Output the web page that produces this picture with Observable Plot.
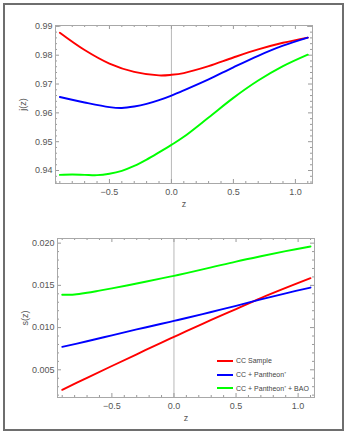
<!DOCTYPE html>
<html><head><meta charset="utf-8">
<script src="https://cdn.jsdelivr.net/npm/d3@7"></script>
<script src="https://cdn.jsdelivr.net/npm/@observablehq/plot@0.6"></script>
<style>
body{margin:0;background:#fff;}
#wrap{position:relative;width:347px;height:434px;overflow:hidden;font-family:"Liberation Sans",Arial,sans-serif;}
#border{position:absolute;left:3px;top:3px;width:341px;height:428px;box-sizing:border-box;border:2px solid #6e6e6e;}
.panel{position:absolute;left:0;}
#legend{position:absolute;left:217px;top:354px;font-size:7px;color:#444;}
#legend .row{display:flex;align-items:center;height:13.8px;}
#legend .sw{width:16px;height:2px;margin-right:3px;}
</style></head>
<body><div id="wrap"><div id="border"></div><div id="top" class="panel" style="top:0"></div><div id="bot" class="panel" style="top:215px"></div>
<div id="legend"></div></div>
<script>
// ---- data ----
const seriesNames = ["CC Sample", "CC + Pantheon\u207A", "CC + Pantheon\u207A + BAO"];
const seriesColors = ["#ff0000", "#0000ff", "#00ff00"];

const zRed  = [-0.9, -0.7, -0.5, -0.3, -0.1, 0, 0.1, 0.3, 0.5, 0.7, 0.9, 1.1];
const jRed  = [0.9878, 0.9818, 0.9771, 0.9742, 0.9730, 0.9732, 0.9738, 0.9762, 0.9792, 0.9820, 0.9843, 0.9861];
const zBlue = [-0.9, -0.7, -0.5, -0.4, -0.3, -0.2, -0.1, 0, 0.1, 0.3, 0.5, 0.7, 0.9, 1.1];
const jBlue = [0.9655, 0.9636, 0.9620, 0.9617, 0.9622, 0.9631, 0.9644, 0.9660, 0.9678, 0.9716, 0.9758, 0.9798, 0.9833, 0.9861];
const zGreen = [-0.9, -0.8, -0.7, -0.6, -0.5, -0.4, -0.3, -0.2, -0.1, 0, 0.1, 0.3, 0.5, 0.7, 0.9, 1.1];
const jGreen = [0.9385, 0.9386, 0.9385, 0.9384, 0.9389, 0.9399, 0.9416, 0.9438, 0.9463, 0.9489, 0.9517, 0.9584, 0.9652, 0.9712, 0.9762, 0.9802];

const zS = [-0.9, -0.7, -0.5, -0.3, -0.1, 0, 0.1, 0.3, 0.5, 0.7, 0.9, 1.1];
const sRed   = [0.00263, 0.00405, 0.00545, 0.00684, 0.00822, 0.00890, 0.00957, 0.01090, 0.01220, 0.01350, 0.01470, 0.01585];
const sBlue  = [0.00772, 0.00838, 0.00908, 0.00978, 0.01045, 0.01079, 0.01113, 0.01185, 0.01257, 0.01334, 0.01406, 0.01474];
const zSGreen = [-0.9, -0.8, -0.7, -0.6, -0.5, -0.3, -0.1, 0, 0.1, 0.3, 0.5, 0.7, 0.9, 1.1];
const sGreen = [0.01388, 0.01392, 0.01412, 0.01438, 0.01465, 0.01522, 0.01583, 0.01613, 0.01645, 0.01713, 0.01782, 0.01845, 0.01905, 0.01960];

const xMajorTicks = [-0.5, 0, 0.5, 1.0];
const jMajorTicks = [0.94, 0.95, 0.96, 0.97, 0.98, 0.99];
const sMajorTicks = [0.005, 0.010, 0.015, 0.020];

// ---- build ----
function rows(zs, vs, k) { return zs.map((z, i) => ({z, v: vs[i], k})); }
const topData = [...rows(zRed, jRed, 0), ...rows(zBlue, jBlue, 1), ...rows(zGreen, jGreen, 2)];
const botData = [...rows(zS, sRed, 0), ...rows(zS, sBlue, 1), ...rows(zSGreen, sGreen, 2)];

function minor(dom, step, majors) {
  const out = [];
  const a = Math.ceil(dom[0] / step - 1e-9), b = Math.floor(dom[1] / step + 1e-9);
  for (let i = a; i <= b; i++) {
    const v = +(i * step).toFixed(6);
    if (!majors.some(m => Math.abs(m - v) < step / 10)) out.push(v);
  }
  return out;
}

function panel({data, xDom, yDom, yMajor, yStep, yFmt, ylabel, mL, mR, mT, mB, h}) {
  const xMinor = minor(xDom, 0.1, xMajorTicks);
  const yMinor = minor(yDom, yStep, yMajor);
  const tickStroke = "#9a9a9a";
  const M = 4, m = 2;
  const xt = (vals, len) => [
    Plot.ruleX(vals, {x: d => d, y1: yDom[0], y2: yDom[0], insetTop: -len, stroke: tickStroke}),
    Plot.ruleX(vals, {x: d => d, y1: yDom[1], y2: yDom[1], insetBottom: -len, stroke: tickStroke})
  ];
  const yt = (vals, len) => [
    Plot.ruleY(vals, {y: d => d, x1: xDom[0], x2: xDom[0], insetRight: -len, stroke: tickStroke}),
    Plot.ruleY(vals, {y: d => d, x1: xDom[1], x2: xDom[1], insetLeft: -len, stroke: tickStroke})
  ];
  return Plot.plot({
    width: 347, height: h,
    marginLeft: mL, marginRight: mR, marginTop: mT, marginBottom: mB,
    style: {fontFamily: "'Liberation Sans', Arial, sans-serif", fontSize: "9px", background: "transparent"},
    x: {domain: xDom},
    y: {domain: yDom},
    marks: [
      Plot.ruleX([0], {stroke: "#b8b8b8", strokeWidth: 1}),
      ...xt(xMajorTicks, M), ...xt(xMinor, m),
      ...yt(yMajor, M), ...yt(yMinor, m),
      Plot.frame({stroke: "#a8a8a8"}),
      Plot.line(data, {x: "z", y: "v", z: "k", stroke: d => seriesColors[d.k], strokeWidth: 1.9, curve: "catmull-rom"}),
      Plot.axisX(xMajorTicks, {tickSize: 0, tickPadding: 5, tickFormat: d3.format(".1f"), color: "#555", fontSize: 9,
        label: "z", labelAnchor: "center", labelOffset: 23, labelArrow: "none"}),
      Plot.axisY(yMajor, {tickSize: 0, tickPadding: 3, tickFormat: yFmt, color: "#555", fontSize: 9,
        label: ylabel, labelAnchor: "center", labelOffset: 36, labelArrow: "none"})
    ]
  });
}

document.getElementById("top").append(panel({
  data: topData, xDom: [-0.935, 1.138], yDom: [0.9355, 0.9903], yMajor: jMajorTicks, yStep: 0.002,
  yFmt: d3.format(".2f"), ylabel: "j(z)", mL: 55, mR: 35, mT: 25, mB: 32, h: 215
}));
document.getElementById("bot").append(panel({
  data: botData, xDom: [-0.938, 1.132], yDom: [0.00172, 0.02055], yMajor: sMajorTicks, yStep: 0.001,
  yFmt: d3.format(".3f"), ylabel: "s(z)", mL: 57, mR: 33, mT: 23, mB: 37, h: 219
}));

const leg = document.getElementById("legend");
seriesNames.forEach((n, i) => {
  const r = document.createElement("div"); r.className = "row";
  const s = document.createElement("div"); s.className = "sw"; s.style.background = seriesColors[i];
  const t = document.createElement("span"); t.textContent = n;
  r.append(s, t); leg.append(r);
});
</script></body></html>
